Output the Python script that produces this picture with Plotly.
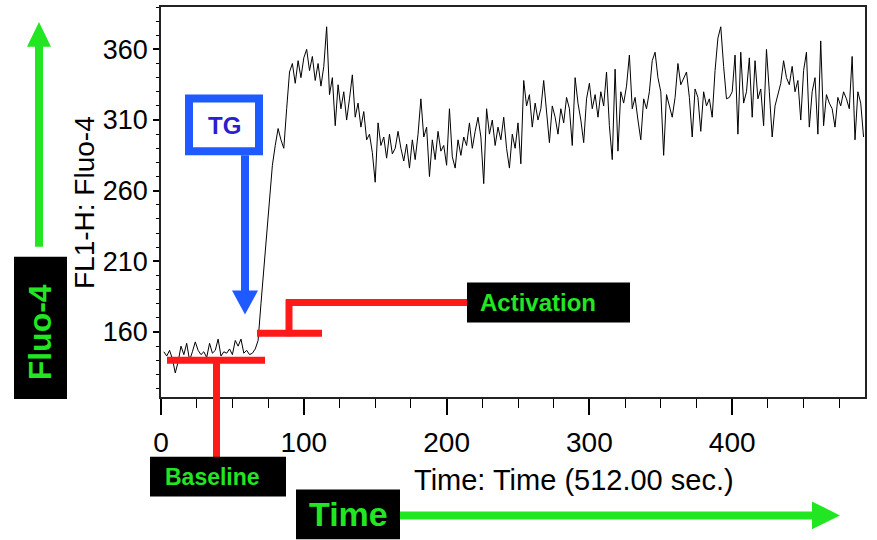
import plotly.graph_objects as go

# ---------------- data ----------------
time_s = list(range(2, 494, 2))  # sampling times, seconds

fluo4 = [
    146, 143, 147, 141, 131, 139, 150, 144, 152, 140,   # 2-20
    146, 153, 147, 144, 146, 142, 152, 145, 147, 155,   # 22-40
    143, 146, 145, 148, 144, 154, 150, 155, 145, 147,   # 42-60
    144, 145, 148, 154, 180, 205, 231, 257, 278, 292,   # 62-80
    304, 296, 290, 318, 344, 350, 336, 352, 340, 354,   # 82-100
    360, 345, 355, 338, 350, 334, 348, 376, 328, 340,   # 102-120
    306, 335, 318, 330, 310, 325, 342, 312, 322, 305,   # 122-140
    316, 296, 300, 287, 266, 308, 292, 298, 283, 300,   # 142-160
    286, 290, 302, 290, 281, 293, 276, 296, 282, 300,   # 162-180
    325, 298, 305, 270, 296, 282, 302, 288, 292, 278,   # 182-200
    318, 284, 276, 296, 285, 298, 292, 308, 290, 302,   # 202-220
    312, 298, 265, 318, 300, 310, 292, 305, 296, 312,   # 222-240
    290, 276, 300, 290, 308, 279, 338, 320, 328, 305,   # 242-260
    322, 310, 318, 338, 315, 294, 320, 312, 300, 318,   # 262-280
    308, 326, 318, 292, 340, 322, 310, 294, 325, 336,   # 282-300
    318, 328, 312, 330, 320, 344, 306, 282, 346, 288,   # 302-320
    330, 322, 334, 356, 318, 326, 310, 296, 325, 318,   # 322-340
    330, 352, 358, 340, 330, 285, 328, 320, 312, 326,   # 342-360
    350, 335, 340, 344, 326, 298, 332, 326, 302, 330,   # 362-380
    320, 325, 312, 345, 368, 376, 348, 325, 326, 330,   # 382-400
    356, 300, 358, 322, 330, 354, 312, 352, 325, 332,   # 402-420
    306, 360, 330, 298, 320, 328, 336, 352, 340, 335,   # 422-440
    348, 330, 338, 310, 345, 358, 305, 330, 340, 300,   # 442-460
    366, 306, 328, 322, 318, 305, 326, 320, 330, 325,   # 462-480
    318, 355, 296, 330, 322, 298,                       # 482-492
]
assert len(time_s) == len(fluo4)

x_ticks = [0, 100, 200, 300, 400]
y_ticks = [160, 210, 260, 310, 360]
x_range = [0, 493]
y_range = [114, 390]

x_title = "Time: Time (512.00 sec.)"
y_title = "FL1-H: Fluo-4"

# ---------------- layout helpers ----------------
W, H = 877, 540
L, R, T, B = 161, 12, 5, 143
PW, PH = W - L - R, H - T - B


def px(x):
    return (x - L) / PW


def py(y):
    return (H - B - y) / PH


GREEN = "#22e622"
BLUE = "#1e5aff"
RED = "#ff1a1a"
FONT = "Arial, Liberation Sans, sans-serif"

fig = go.Figure()
fig.add_trace(go.Scatter(x=time_s, y=fluo4, mode="lines",
                         line=dict(color="black", width=1), showlegend=False,
                         hoverinfo="skip"))

shapes = []


def line(x0, y0, x1, y1, color, width):
    shapes.append(dict(type="line", xref="paper", yref="paper",
                       x0=px(x0), y0=py(y0), x1=px(x1), y1=py(y1),
                       line=dict(color=color, width=width), layer="above"))


def rect(x0, y0, x1, y1, fill, color=None, width=0):
    shapes.append(dict(type="rect", xref="paper", yref="paper",
                       x0=px(x0), y0=py(y0), x1=px(x1), y1=py(y1),
                       fillcolor=fill,
                       line=dict(color=color or fill, width=width), layer="above"))


def tri(pts, color):
    path = "M " + " L ".join(f"{px(a):.5f},{py(b):.5f}" for a, b in pts) + " Z"
    shapes.append(dict(type="path", xref="paper", yref="paper", path=path,
                       fillcolor=color, line=dict(color=color, width=0), layer="above"))


# green vertical arrow (Fluo-4)
line(39, 246, 39, 44, GREEN, 8)
tri([(27, 45), (51, 45), (39, 20)], GREEN)
rect(14, 256, 67, 399, "black")

# TG box and blue arrow
rect(189, 97, 259, 150, "white", BLUE, 8)
line(245, 154, 245, 292, BLUE, 8)
tri([(232, 290), (258, 290), (245, 314)], BLUE)

# baseline marker
line(167, 360, 265, 360, RED, 7)
line(216.5, 360, 216.5, 458, RED, 7)
rect(150, 457, 286, 497, "black")

# activation marker
line(257, 333, 322, 333, RED, 7)
line(289, 336, 289, 299, RED, 7)
line(286, 302, 468, 302, RED, 7)
rect(467, 282, 630, 322, "black")

# time box and green arrow
rect(296, 490, 400, 540, "black")
line(400, 516, 814, 516, GREEN, 8)
tri([(812, 502), (812, 530), (840, 516)], GREEN)

annotations = []


def text(x, y, s, size, color, angle=0):
    annotations.append(dict(xref="paper", yref="paper", x=px(x), y=py(y),
                            text=s, showarrow=False, textangle=angle,
                            xanchor="center", yanchor="middle",
                            font=dict(family=FONT, size=size, color=color)))


text(40, 332, "<b>Fluo-4</b>", 32, GREEN, -90)
text(224, 124, "<b>TG</b>", 24, "#2a20cc")
text(212, 477, "<b>Baseline</b>", 23, GREEN)
text(538, 302, "<b>Activation</b>", 24, GREEN)
text(348, 515, "<b>Time</b>", 34, GREEN)
text(85, 202, y_title, 28, "black", -90)
text(574, 480, x_title, 29, "black")

fig.update_layout(
    width=W, height=H,
    margin=dict(l=L, r=R, t=T, b=B, pad=0),
    paper_bgcolor="white", plot_bgcolor="white",
    shapes=shapes, annotations=annotations,
    font=dict(family=FONT, color="black"),
    xaxis=dict(range=x_range, tickmode="array", tickvals=x_ticks,
               ticks="outside", ticklen=16, tickwidth=1.5, tickcolor="black",
               showline=True, linecolor="#222", linewidth=1.5, mirror=True,
               showgrid=False, zeroline=False,
               tickfont=dict(size=28, family=FONT, color="black"),
               ticklabelstandoff=4,
               minor=dict(tickmode="linear", tick0=0, dtick=25, ticks="outside",
                          ticklen=9, tickwidth=1, tickcolor="black", showgrid=False)),
    yaxis=dict(range=y_range, tickmode="array", tickvals=y_ticks,
               ticks="outside", ticklen=6, tickwidth=1.5, tickcolor="black",
               showline=True, linecolor="#222", linewidth=1.5, mirror=True,
               showgrid=False, zeroline=False,
               tickfont=dict(size=27, family=FONT, color="black"),
               minor=dict(tickmode="linear", tick0=0, dtick=10, ticks="outside",
                          ticklen=3, tickwidth=1, tickcolor="black", showgrid=False)),
)

fig.write_html("out.html",
               config={"displayModeBar": False},
               post_script="document.body.style.margin='0px';"
                           "document.body.style.overflow='hidden';")
